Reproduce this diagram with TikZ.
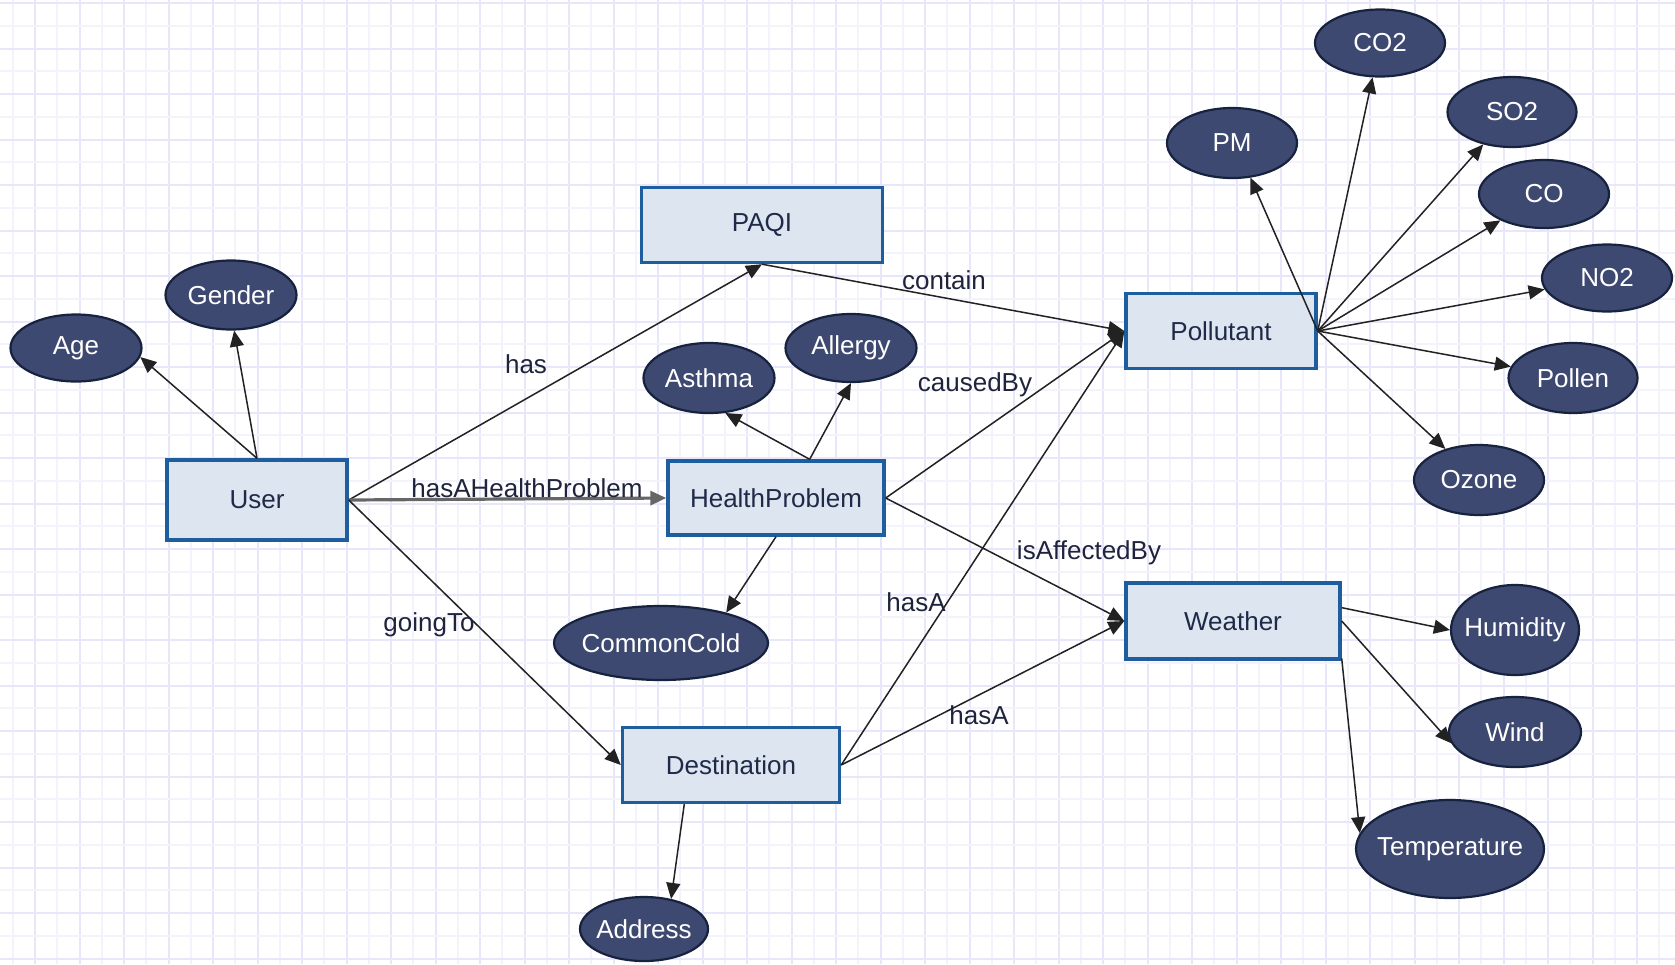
\documentclass[tikz,border=0pt]{standalone}
\usepackage{fontspec}
\setmainfont{Liberation Sans}
\usetikzlibrary{shapes.geometric,arrows.meta}
\definecolor{gridmaj}{RGB}{232,230,250}
\definecolor{gridmin}{RGB}{244,243,252}
\definecolor{clsfill}{RGB}{221,229,240}
\definecolor{clsborder}{RGB}{31,94,158}
\definecolor{clstext}{RGB}{30,42,72}
\definecolor{ellfill}{RGB}{62,73,113}
\definecolor{ellborder}{RGB}{22,34,62}
\definecolor{edgecol}{RGB}{34,34,34}
\definecolor{labcol}{RGB}{30,36,60}
\tikzset{
  cls/.style={rectangle, draw=clsborder, line width=1.7pt, fill=clsfill, text=clstext,
    inner sep=0pt, font=\fontsize{13}{15}\selectfont},
  lit/.style={ellipse, draw=ellborder, line width=1.1pt, fill=ellfill, text=white,
    inner sep=0pt, font=\fontsize{13}{15}\selectfont,
    execute at begin node={\hbox to 0pt\bgroup\hss},
    execute at end node={\hss\egroup}},
  rel/.style={draw=edgecol, line width=0.75pt, -{Triangle[length=8pt,width=7pt]}},
  thickrel/.style={draw=black!60, line width=1.6pt, -{Triangle[length=8pt,width=7pt]}},
  elab/.style={text=labcol, inner sep=0pt, font=\fontsize{13}{15}\selectfont},
}
\begin{document}
\begin{tikzpicture}[x=0.5pt,y=-0.5pt]
\useasboundingbox (0,0) rectangle (1675,964);
\fill[white] (0,0) rectangle (1675,964);
% grid
\begin{scope}
\clip (0,0) rectangle (1675,964);
\foreach \i in {-1,...,37} {
  \draw[gridmin, line width=0.9pt] ({35+22.25+44.5*\i},0) -- ({35+22.25+44.5*\i},964);
  \draw[gridmaj, line width=1pt] ({35+44.5*\i},0) -- ({35+44.5*\i},964);
}
\foreach \j in {-1,...,21} {
  \draw[gridmin, line width=0.9pt] (0,{3+22.75+45.5*\j}) -- (1675,{3+22.75+45.5*\j});
  \draw[gridmaj, line width=1pt] (0,{3+45.5*\j}) -- (1675,{3+45.5*\j});
}
\end{scope}

% class nodes
\node[cls, minimum width=90pt, minimum height=40pt] (user) at (257,500) {User};
\node[cls, minimum width=120.5pt, minimum height=37.5pt] (paqi) at (762,225) {PAQI};
\node[cls, minimum width=108pt, minimum height=37pt] (hp) at (776,498) {HealthProblem};
\node[cls, minimum width=108.5pt, minimum height=37.5pt] (dest) at (731,765) {Destination};
\node[cls, minimum width=95pt, minimum height=37.5pt] (poll) at (1221,331) {Pollutant};
\node[cls, minimum width=107pt, minimum height=38pt] (weather) at (1233,621) {Weather};

% literal nodes
\node[lit, minimum width=65.5pt, minimum height=33.5pt] (age) at (76,348) {Age};
\node[lit, minimum width=65.5pt, minimum height=34.5pt] (gender) at (231,295) {Gender};
\node[lit, minimum width=65.5pt, minimum height=35pt] (asthma) at (709,378) {Asthma};
\node[lit, minimum width=65.5pt, minimum height=34pt] (allergy) at (851,348) {Allergy};
\node[lit, minimum width=107pt, minimum height=37pt] (cold) at (661,643) {CommonCold};
\node[lit, minimum width=64pt, minimum height=32pt] (address) at (644,929) {Address};
\node[lit, minimum width=65pt, minimum height=35pt] (pm) at (1232,143) {PM};
\node[lit, minimum width=65pt, minimum height=33.5pt] (co2) at (1380,43) {CO2};
\node[lit, minimum width=64.5pt, minimum height=35pt] (so2) at (1512,112) {SO2};
\node[lit, minimum width=65pt, minimum height=34pt] (co) at (1544,194) {CO};
\node[lit, minimum width=65pt, minimum height=33.5pt] (no2) at (1607,278) {NO2};
\node[lit, minimum width=64.5pt, minimum height=35pt] (pollen) at (1573,378) {Pollen};
\node[lit, minimum width=65pt, minimum height=35pt] (ozone) at (1479,480) {Ozone};
\node[lit, minimum width=64pt, minimum height=45pt] (humidity) at (1515,630) {Humidity};
\node[lit, minimum width=66pt, minimum height=35pt] (wind) at (1515,732) {Wind};
\node[lit, minimum width=94pt, minimum height=49pt] (temp) at (1450,849) {Temperature};

% edges
\draw[rel] (user.north) -- (age.-8);
\draw[rel] (user.north) -- (gender.-85);
\draw[rel] (user.east) -- (paqi.south);
\draw[thickrel] (user.east) -- (hp.west);
\draw[rel] (user.east) -- (dest.west);
\draw[rel] (paqi.south) -- (poll.west);
\draw[rel] (hp.49) -- (asthma.-65);
\draw[rel] (hp.49) -- (allergy.south);
\draw[rel] (hp.south) -- (cold.25);
\draw[rel] (hp.east) -- (poll.west);
\draw[rel] (hp.east) -- (weather.west);
\draw[rel] (dest.east) -- (poll.west);
\draw[rel] (dest.east) -- (weather.west);
\draw[rel] (dest.-140) -- (address.48);
\draw[rel] (poll.east) -- (pm.-62);
\foreach \t in {co2,so2,co,no2,pollen,ozone} {
  \draw[rel] (poll.east) -- (\t);
}
\draw[rel] (weather.7) -- (humidity.west);
\draw[rel] (weather.east) -- (wind.-170);
\draw[rel] (weather.-19) -- (temp.170);

% edge labels
\node[elab] (lhas) at (526,364) {has};
\node[elab] (lhahp) at (527,488) {hasAHealthProblem};
\node[elab] (lgoing) at (429,625) {goingTo};
\node[elab] (lcontain) at (944,280) {contain};
\node[elab] (lcaused) at (975,385) {causedBy};
\node[elab] (laffected) at (1089,553) {isAffectedBy};
\node[elab] (lhasa1) at (916,602) {hasA};
\node[elab] (lhasa2) at (979,715) {hasA};
\end{tikzpicture}
\end{document}
